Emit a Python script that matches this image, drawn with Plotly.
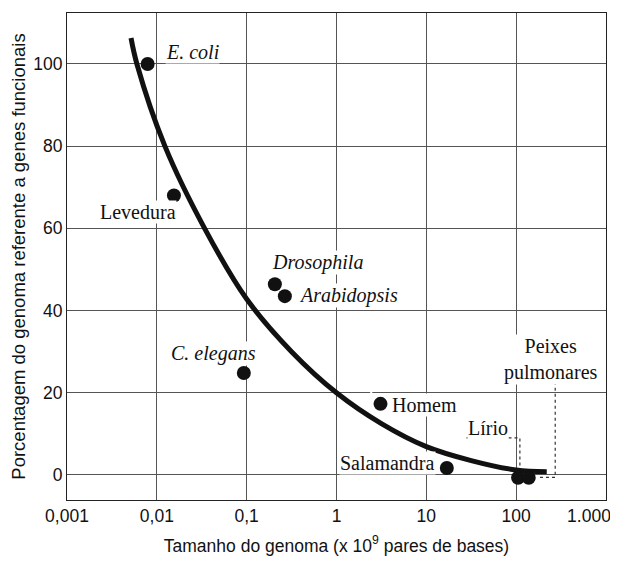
import plotly.graph_objects as go

# organism data (genome size in 10^9 bp, % functional genes)
organisms = ["E. coli", "Levedura", "Drosophila", "Arabidopsis", "C. elegans",
             "Homem", "Salamandra", "Lírio", "Peixes pulmonares"]
genome_size = [0.0079, 0.0155, 0.206, 0.266, 0.093, 3.09, 16.9, 105, 138]
pct_functional = [100, 68, 46.4, 43.5, 24.8, 17.3, 1.7, -0.7, -0.7]

# trend curve
curve_x = [0.00516, 0.006, 0.0123, 0.034, 0.1, 0.316, 1.0, 3.16, 10, 31.6, 100, 219]
curve_y = [106.3, 100, 80, 60, 42.8, 30, 20, 12.5, 6.9, 3.5, 1.2, 0.8]

x_tickvals = [0.001, 0.01, 0.1, 1, 10, 100, 1000]
x_ticktext = ["0,001", "0,01", "0,1", "1", "10", "100",
              "1.000&nbsp;&nbsp;&nbsp;&nbsp;&nbsp;&nbsp;&nbsp;"]
y_tickvals = [0, 20, 40, 60, 80, 100]

# label positions (x given as log10 of genome size, as annotations on log axes need)
label_text = ["<i>E. coli</i>", "Levedura", "<i>Drosophila</i>", "<i>Arabidopsis</i>",
              "<i>C. elegans</i>", "Homem", "Salamandra", "Lírio", "Peixes<br>pulmonares"]
label_logx = [-1.905, -2.21, -0.21, 0.131, -1.374, 0.984, 0.569, 1.682, 2.387]
label_y = [102.9, 64.1, 51.7, 43.6, 29.5, 17.1, 2.8, 11.4, 28.2]
label_anchor = ["left", "center", "center", "center", "center", "center", "center", "center", "center"]

# dotted leader lines
lirio_lead_x = [28, 110, 110]
lirio_lead_y = [9.0, 9.0, -0.7]
peixes_lead_x = [272, 272, 174]
peixes_lead_y = [22.7, -0.6, -0.6]
# small break in the 20% gridline where the leader crosses it (log10 x range)
grid_gap_logx = [2.37, 2.50]
grid_gap_y = 20

ink = "#111111"
fig = go.Figure()

fig.add_shape(type="line", xref="x", yref="y", layer="between",
              x0=grid_gap_logx[0], x1=grid_gap_logx[1], y0=grid_gap_y, y1=grid_gap_y,
              line=dict(color="white", width=3))

fig.add_trace(go.Scatter(x=lirio_lead_x, y=lirio_lead_y, mode="lines",
                         line=dict(color="#333", width=1.2, dash="dot"), hoverinfo="skip"))
fig.add_trace(go.Scatter(x=peixes_lead_x, y=peixes_lead_y, mode="lines",
                         line=dict(color="#333", width=1.2, dash="dot"), hoverinfo="skip"))
fig.add_trace(go.Scatter(x=curve_x, y=curve_y, mode="lines",
                         line=dict(color=ink, width=5, shape="spline", smoothing=1.0),
                         hoverinfo="skip"))
fig.add_trace(go.Scatter(x=genome_size, y=pct_functional, mode="markers",
                         marker=dict(color=ink, size=14), text=organisms))

for t, x, y, a in zip(label_text, label_logx, label_y, label_anchor):
    fig.add_annotation(x=x, y=y, text=t, showarrow=False, xanchor=a, yanchor="middle",
                       font=dict(family="Liberation Serif", size=20, color=ink),
                       bgcolor="white", borderpad=0)

axis_common = dict(showline=True, linecolor="#222", linewidth=1, mirror=True,
                   showgrid=True, gridcolor="#555", gridwidth=1, zeroline=False,
                   ticks="", automargin=False,
                   tickfont=dict(family="Liberation Sans", size=17.5, color=ink))

fig.update_xaxes(type="log", range=[-3, 3], tickvals=x_tickvals, ticktext=x_ticktext,
                 ticklabeloverflow="allow",
                 title=dict(text="Tamanho do genoma (x 10<sup>9</sup> pares de bases)",
                            font=dict(family="Liberation Sans", size=17.5, color=ink), standoff=14),
                 **axis_common)
fig.update_yaxes(range=[-6.1, 112.4], tickvals=y_tickvals,
                 title=dict(text="Porcentagem do genoma referente a genes funcionais",
                            font=dict(family="Liberation Sans", size=18.5, color=ink), standoff=12),
                 **axis_common)

fig.update_layout(width=610, height=555, showlegend=False,
                  plot_bgcolor="white", paper_bgcolor="white",
                  margin=dict(l=59, r=12, t=5, b=63))

fig.write_html("out.html")
